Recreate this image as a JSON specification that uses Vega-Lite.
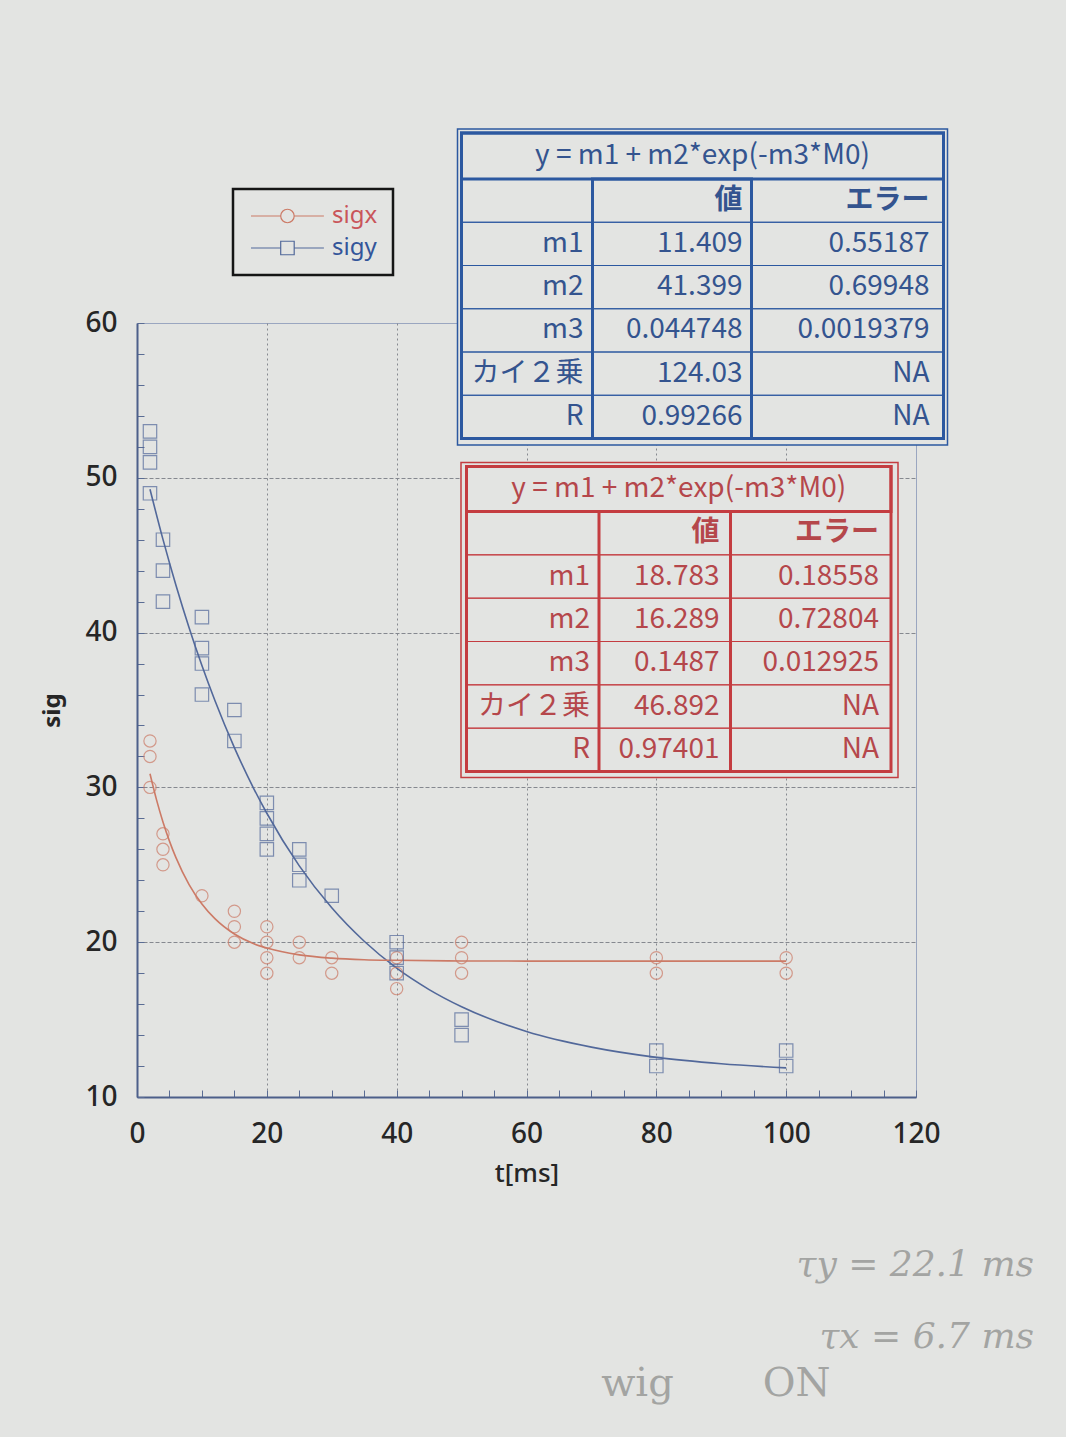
{
  "$schema": "https://vega.github.io/schema/vega-lite/v6.json",
  "width": 779,
  "height": 774,
  "autosize": "none",
  "padding": {"left": 137, "top": 323, "right": 150, "bottom": 340},
  "background": "#e3e4e2",
  "config": {"view": {"stroke": "#9aa6c0", "strokeWidth": 1}, "font": "Noto Sans"},
  "title": {
    "text": ["τy = 22.1 ms", "τx = 6.7 ms"],
    "subtitle": "wig\u00a0\u00a0\u00a0\u00a0\u00a0\u00a0\u00a0ON\u00a0\u00a0\u00a0\u00a0\u00a0\u00a0\u00a0\u00a0\u00a0\u00a0\u00a0\u00a0\u00a0\u00a0\u00a0\u00a0\u200b",
    "orient": "bottom", "anchor": "end", "frame": "group",
    "font": "DejaVu Serif", "fontStyle": "italic", "fontWeight": "normal",
    "fontSize": 36, "color": "#a3a4a2", "lineHeight": 72, "offset": 62, "dx": 118,
    "subtitleFont": "DejaVu Serif", "subtitleFontSize": 40, "subtitleColor": "#a3a4a2", "subtitlePadding": 8
  },
  "datasets": {
    "pts": [
      {"s": "sigy", "t": 2, "sig": 53}, {"s": "sigy", "t": 2, "sig": 52}, {"s": "sigy", "t": 2, "sig": 51}, {"s": "sigy", "t": 2, "sig": 49},
      {"s": "sigy", "t": 4, "sig": 46}, {"s": "sigy", "t": 4, "sig": 44}, {"s": "sigy", "t": 4, "sig": 42},
      {"s": "sigy", "t": 10, "sig": 41}, {"s": "sigy", "t": 10, "sig": 39}, {"s": "sigy", "t": 10, "sig": 38}, {"s": "sigy", "t": 10, "sig": 36},
      {"s": "sigy", "t": 15, "sig": 35}, {"s": "sigy", "t": 15, "sig": 33},
      {"s": "sigy", "t": 20, "sig": 29}, {"s": "sigy", "t": 20, "sig": 28}, {"s": "sigy", "t": 20, "sig": 27}, {"s": "sigy", "t": 20, "sig": 26},
      {"s": "sigy", "t": 25, "sig": 26}, {"s": "sigy", "t": 25, "sig": 25}, {"s": "sigy", "t": 25, "sig": 24},
      {"s": "sigy", "t": 30, "sig": 23},
      {"s": "sigy", "t": 40, "sig": 20}, {"s": "sigy", "t": 40, "sig": 19}, {"s": "sigy", "t": 40, "sig": 18},
      {"s": "sigy", "t": 50, "sig": 15}, {"s": "sigy", "t": 50, "sig": 14},
      {"s": "sigy", "t": 80, "sig": 13}, {"s": "sigy", "t": 80, "sig": 12},
      {"s": "sigy", "t": 100, "sig": 13}, {"s": "sigy", "t": 100, "sig": 12},
      {"s": "sigx", "t": 2, "sig": 33}, {"s": "sigx", "t": 2, "sig": 32}, {"s": "sigx", "t": 2, "sig": 30},
      {"s": "sigx", "t": 4, "sig": 27}, {"s": "sigx", "t": 4, "sig": 26}, {"s": "sigx", "t": 4, "sig": 25},
      {"s": "sigx", "t": 10, "sig": 23},
      {"s": "sigx", "t": 15, "sig": 22}, {"s": "sigx", "t": 15, "sig": 21}, {"s": "sigx", "t": 15, "sig": 20},
      {"s": "sigx", "t": 20, "sig": 21}, {"s": "sigx", "t": 20, "sig": 20}, {"s": "sigx", "t": 20, "sig": 19}, {"s": "sigx", "t": 20, "sig": 18},
      {"s": "sigx", "t": 25, "sig": 20}, {"s": "sigx", "t": 25, "sig": 19},
      {"s": "sigx", "t": 30, "sig": 19}, {"s": "sigx", "t": 30, "sig": 18},
      {"s": "sigx", "t": 40, "sig": 19}, {"s": "sigx", "t": 40, "sig": 18}, {"s": "sigx", "t": 40, "sig": 17},
      {"s": "sigx", "t": 50, "sig": 20}, {"s": "sigx", "t": 50, "sig": 19}, {"s": "sigx", "t": 50, "sig": 18},
      {"s": "sigx", "t": 80, "sig": 19}, {"s": "sigx", "t": 80, "sig": 18},
      {"s": "sigx", "t": 100, "sig": 19}, {"s": "sigx", "t": 100, "sig": 18}
    ],
    "fit": [
      {"s": "sigy", "t": 2, "sig": 49.26}, {"s": "sigy", "t": 4, "sig": 46.02}, {"s": "sigy", "t": 6, "sig": 43.06},
      {"s": "sigy", "t": 8, "sig": 40.35}, {"s": "sigy", "t": 10, "sig": 37.87}, {"s": "sigy", "t": 12, "sig": 35.61},
      {"s": "sigy", "t": 15, "sig": 32.57}, {"s": "sigy", "t": 18, "sig": 29.91}, {"s": "sigy", "t": 20, "sig": 28.33},
      {"s": "sigy", "t": 25, "sig": 24.93}, {"s": "sigy", "t": 30, "sig": 22.22}, {"s": "sigy", "t": 35, "sig": 20.06},
      {"s": "sigy", "t": 40, "sig": 18.32}, {"s": "sigy", "t": 45, "sig": 16.94}, {"s": "sigy", "t": 50, "sig": 15.83},
      {"s": "sigy", "t": 60, "sig": 14.23}, {"s": "sigy", "t": 70, "sig": 13.22}, {"s": "sigy", "t": 80, "sig": 12.56},
      {"s": "sigy", "t": 90, "sig": 12.15}, {"s": "sigy", "t": 100, "sig": 11.88},
      {"s": "sigx", "t": 2, "sig": 30.88}, {"s": "sigx", "t": 3, "sig": 29.21}, {"s": "sigx", "t": 4, "sig": 27.77},
      {"s": "sigx", "t": 5, "sig": 26.53}, {"s": "sigx", "t": 6, "sig": 25.46}, {"s": "sigx", "t": 8, "sig": 23.74},
      {"s": "sigx", "t": 10, "sig": 22.47}, {"s": "sigx", "t": 12, "sig": 21.52}, {"s": "sigx", "t": 15, "sig": 20.53},
      {"s": "sigx", "t": 18, "sig": 19.9}, {"s": "sigx", "t": 20, "sig": 19.62}, {"s": "sigx", "t": 25, "sig": 19.18},
      {"s": "sigx", "t": 30, "sig": 18.97}, {"s": "sigx", "t": 35, "sig": 18.87}, {"s": "sigx", "t": 40, "sig": 18.83},
      {"s": "sigx", "t": 50, "sig": 18.79}, {"s": "sigx", "t": 60, "sig": 18.78}, {"s": "sigx", "t": 80, "sig": 18.78},
      {"s": "sigx", "t": 100, "sig": 18.78}
    ],
    "tab": [
      {"tbl": "b", "c": "title", "r": "title", "txt": "y = m1 + m2*exp(-m3*M0)"},
      {"tbl": "b", "c": "lab", "r": "hdr", "txt": ""}, {"tbl": "b", "c": "val", "r": "hdr", "txt": "値"}, {"tbl": "b", "c": "err", "r": "hdr", "txt": "エラー"},
      {"tbl": "b", "c": "lab", "r": "m1", "txt": "m1"}, {"tbl": "b", "c": "val", "r": "m1", "txt": "11.409"}, {"tbl": "b", "c": "err", "r": "m1", "txt": "0.55187"},
      {"tbl": "b", "c": "lab", "r": "m2", "txt": "m2"}, {"tbl": "b", "c": "val", "r": "m2", "txt": "41.399"}, {"tbl": "b", "c": "err", "r": "m2", "txt": "0.69948"},
      {"tbl": "b", "c": "lab", "r": "m3", "txt": "m3"}, {"tbl": "b", "c": "val", "r": "m3", "txt": "0.044748"}, {"tbl": "b", "c": "err", "r": "m3", "txt": "0.0019379"},
      {"tbl": "b", "c": "lab", "r": "chi", "txt": "カイ２乗"}, {"tbl": "b", "c": "val", "r": "chi", "txt": "124.03"}, {"tbl": "b", "c": "err", "r": "chi", "txt": "NA"},
      {"tbl": "b", "c": "lab", "r": "R", "txt": "R"}, {"tbl": "b", "c": "val", "r": "R", "txt": "0.99266"}, {"tbl": "b", "c": "err", "r": "R", "txt": "NA"},
      {"tbl": "r", "c": "title", "r": "title", "txt": "y = m1 + m2*exp(-m3*M0)"},
      {"tbl": "r", "c": "lab", "r": "hdr", "txt": ""}, {"tbl": "r", "c": "val", "r": "hdr", "txt": "値"}, {"tbl": "r", "c": "err", "r": "hdr", "txt": "エラー"},
      {"tbl": "r", "c": "lab", "r": "m1", "txt": "m1"}, {"tbl": "r", "c": "val", "r": "m1", "txt": "18.783"}, {"tbl": "r", "c": "err", "r": "m1", "txt": "0.18558"},
      {"tbl": "r", "c": "lab", "r": "m2", "txt": "m2"}, {"tbl": "r", "c": "val", "r": "m2", "txt": "16.289"}, {"tbl": "r", "c": "err", "r": "m2", "txt": "0.72804"},
      {"tbl": "r", "c": "lab", "r": "m3", "txt": "m3"}, {"tbl": "r", "c": "val", "r": "m3", "txt": "0.1487"}, {"tbl": "r", "c": "err", "r": "m3", "txt": "0.012925"},
      {"tbl": "r", "c": "lab", "r": "chi", "txt": "カイ２乗"}, {"tbl": "r", "c": "val", "r": "chi", "txt": "46.892"}, {"tbl": "r", "c": "err", "r": "chi", "txt": "NA"},
      {"tbl": "r", "c": "lab", "r": "R", "txt": "R"}, {"tbl": "r", "c": "val", "r": "R", "txt": "0.97401"}, {"tbl": "r", "c": "err", "r": "R", "txt": "NA"}
    ]
  },
  "resolve": {"scale": {"x": "independent", "y": "independent"}},
  "layer": [
    {
      "encoding": {
        "x": {"field": "t", "type": "quantitative", "scale": {"domain": [0, 120], "nice": false, "zero": false},
          "axis": {"title": "t[ms]", "values": [0,5,10,15,20,25,30,35,40,45,50,55,60,65,70,75,80,85,90,95,100,105,110,115,120],
            "labelExpr": "datum.value % 20 === 0 ? datum.label : ''", "labelOverlap": false, "labelFlush": false, "labelBound": false,
            "labelFontSize": 28, "labelFont": "Noto Sans", "labelFontWeight": 500, "labelColor": "#262626", "labelPadding": 30,
            "tickSize": -7, "tickColor": "#5a6c94", "tickWidth": 1, "domainColor": "#4d5f8a", "domainWidth": 2,
            "grid": true, "gridColor": {"condition": {"test": "datum.value % 20 === 0 && datum.value > 0 && datum.value < 120", "value": "#85888f"}, "value": "transparent"},
            "gridDash": [2, 3], "gridWidth": 1,
            "titleFontSize": 26, "titleFont": "Noto Sans", "titleFontWeight": 500, "titleColor": "#262626", "titlePadding": 12}},
        "y": {"field": "sig", "type": "quantitative", "scale": {"domain": [10, 60], "nice": false, "zero": false},
          "axis": {"title": "sig", "values": [10,12,14,16,18,20,22,24,26,28,30,32,34,36,38,40,42,44,46,48,50,52,54,56,58,60],
            "labelExpr": "datum.value % 10 === 0 ? datum.label : ''", "labelOverlap": false, "labelFlush": false, "labelBound": false,
            "labelFontSize": 28, "labelFont": "Noto Sans", "labelFontWeight": 500, "labelColor": "#262626", "labelPadding": 27,
            "tickSize": -7, "tickColor": "#5a6c94", "tickWidth": 1, "domainColor": "#4d5f8a", "domainWidth": 2,
            "grid": true, "gridColor": {"condition": {"test": "datum.value % 10 === 0 && datum.value > 10 && datum.value < 60", "value": "#85888f"}, "value": "transparent"},
            "gridDash": [4, 2], "gridWidth": 1,
            "titleFontSize": 24, "titleFont": "Noto Sans", "titleFontWeight": "bold", "titleColor": "#262626", "titlePadding": 20}},
        "color": {"field": "s", "type": "nominal", "scale": {"domain": ["sigx", "sigy"], "range": ["#cc7a66", "#52689a"]},
          "legend": {"orient": "none", "legendX": 96, "legendY": -134, "title": null, "fillColor": "#e3e4e2", "strokeColor": "#151515",
            "padding": 15, "labelFontSize": 24, "labelFont": "Noto Sans", "labelOffset": 60, "symbolSize": 324, "symbolStrokeWidth": 1.2,
            "rowPadding": 8, "symbolOpacity": 1, "symbolFillColor": "transparent",
            "encode": {
              "labels": {"update": {"fill": {"signal": "datum.value === 'sigx' ? '#c9555a' : '#33559a'"}}},
              "legend": {"update": {"strokeWidth": {"value": 2.5}}}
            }}}
      },
      "layer": [
        {
          "data": {"name": "fit"},
          "mark": {"type": "line", "interpolate": "monotone", "strokeWidth": 1.6}
        },
        {
          "data": {"name": "pts"},
          "transform": [{"filter": "datum.s === 'sigx'"}],
          "mark": {"type": "point", "shape": "circle", "filled": false, "size": 150, "strokeWidth": 1.2}
        },
        {
          "data": {"name": "pts"},
          "transform": [{"filter": "datum.s === 'sigy'"}],
          "mark": {"type": "point", "shape": "square", "filled": false, "size": 180, "strokeWidth": 1.2}
        },
        {
          "data": {"name": "pts"},
          "transform": [{"filter": "false"}],
          "mark": {"type": "point", "filled": false, "strokeWidth": 1.2},
          "encoding": {
            "shape": {"field": "s", "type": "nominal", "scale": {"domain": ["sigx", "sigy"],
              "range": ["M-1,0H2.3M3.8,0H7.1M3.8,0A0.75,0.75,0,1,1,2.3,0A0.75,0.75,0,1,1,3.8,0", "M-1,0H2.3M3.8,0H7.1M2.3,-0.75H3.8V0.75H2.3Z"]}}
          }
        }
      ]
    },

    {"data": {"name": "tab"}, "transform": [{"filter": "datum.tbl === 'b' && datum.r === 'title'"}],
     "mark": {"type": "rect", "fill": "#e3e4e2", "stroke": "#2c58a0", "strokeWidth": 1.5},
     "encoding": {"x": {"field": "c", "type": "nominal", "scale": {"domain": ["title"], "range": [320.5, 810.5], "padding": 0}, "axis": null},
                  "y": {"field": "r", "type": "nominal", "scale": {"domain": ["title"], "range": [-194, 122], "padding": 0}, "axis": null}}},
    {"data": {"name": "tab"}, "transform": [{"filter": "datum.tbl === 'b' && datum.r === 'title'"}],
     "mark": {"type": "rect", "fill": "transparent", "stroke": "#2c58a0", "strokeWidth": 3},
     "encoding": {"x": {"field": "c", "type": "nominal", "scale": {"domain": ["title"], "range": [324.5, 806.5], "padding": 0}, "axis": null},
                  "y": {"field": "r", "type": "nominal", "scale": {"domain": ["title"], "range": [-190, 115.5], "padding": 0}, "axis": null}}},
    {"data": {"name": "tab"}, "transform": [{"filter": "datum.tbl === 'b' && datum.r === 'title'"}],
     "encoding": {"x": {"field": "c", "type": "nominal", "scale": {"domain": ["title"], "range": [324.5, 806.5], "padding": 0}, "axis": null},
                  "y": {"field": "r", "type": "nominal", "scale": {"domain": ["title"], "range": [-190, -144], "padding": 0}, "axis": null}},
     "layer": [
       {"mark": {"type": "rect", "fill": "transparent", "stroke": "#2c58a0", "strokeWidth": 3}},
       {"mark": {"type": "text", "align": "center", "baseline": "middle", "font": "Noto Sans CJK JP", "fontSize": 28, "color": "#34548f"}, "encoding": {"text": {"field": "txt"}}}
     ]},
    {"data": {"name": "tab"}, "transform": [{"filter": "datum.tbl === 'b' && datum.c === 'lab'"}],
     "encoding": {"x": {"field": "c", "type": "nominal", "scale": {"domain": ["lab"], "range": [324.5, 455.5], "padding": 0}, "axis": null},
                  "y": {"field": "r", "type": "nominal", "scale": {"domain": ["hdr","m1","m2","m3","chi","R"], "range": [-144, 115.5], "padding": 0}, "axis": null}},
     "layer": [
       {"mark": {"type": "rect", "fill": "transparent", "stroke": "#2c58a0", "strokeWidth": 1}},
       {"mark": {"type": "text", "align": "right", "baseline": "middle", "dx": -9, "font": "Noto Sans CJK JP", "fontSize": 28, "color": "#34548f"},
        "encoding": {"x": {"field": "c", "type": "nominal", "bandPosition": 1}, "text": {"field": "txt"}}}
     ]},
    {"data": {"name": "tab"}, "transform": [{"filter": "datum.tbl === 'b' && datum.c === 'val'"}],
     "encoding": {"x": {"field": "c", "type": "nominal", "scale": {"domain": ["val"], "range": [455.5, 614.5], "padding": 0}, "axis": null},
                  "y": {"field": "r", "type": "nominal", "scale": {"domain": ["hdr","m1","m2","m3","chi","R"], "range": [-144, 115.5], "padding": 0}, "axis": null}},
     "layer": [
       {"mark": {"type": "rect", "fill": "transparent", "stroke": "#2c58a0", "strokeWidth": 1}},
       {"mark": {"type": "text", "align": "right", "baseline": "middle", "dx": -9, "font": "Noto Sans CJK JP", "fontSize": 28, "color": "#34548f", "fontWeight": {"expr": "datum.r === 'hdr' ? 'bold' : 'normal'"}},
        "encoding": {"x": {"field": "c", "type": "nominal", "bandPosition": 1}, "text": {"field": "txt"}}}
     ]},
    {"data": {"name": "tab"}, "transform": [{"filter": "datum.tbl === 'b' && datum.c === 'err'"}],
     "encoding": {"x": {"field": "c", "type": "nominal", "scale": {"domain": ["err"], "range": [614.5, 806.5], "padding": 0}, "axis": null},
                  "y": {"field": "r", "type": "nominal", "scale": {"domain": ["hdr","m1","m2","m3","chi","R"], "range": [-144, 115.5], "padding": 0}, "axis": null}},
     "layer": [
       {"mark": {"type": "rect", "fill": "transparent", "stroke": "#2c58a0", "strokeWidth": 1}},
       {"mark": {"type": "text", "align": "right", "baseline": "middle", "dx": -14, "font": "Noto Sans CJK JP", "fontSize": 28, "color": "#34548f", "fontWeight": {"expr": "datum.r === 'hdr' ? 'bold' : 'normal'"}},
        "encoding": {"x": {"field": "c", "type": "nominal", "bandPosition": 1}, "text": {"field": "txt"}}}
     ]},
    {"data": {"name": "tab"}, "transform": [{"filter": "datum.tbl === 'b' && datum.c === 'val' && datum.r === 'hdr'"}],
     "mark": {"type": "rect", "fill": "transparent", "stroke": "#2c58a0", "strokeWidth": 3},
     "encoding": {"x": {"field": "c", "type": "nominal", "scale": {"domain": ["val"], "range": [455.5, 614.5], "padding": 0}, "axis": null},
                  "y": {"field": "r", "type": "nominal", "scale": {"domain": ["hdr"], "range": [-144, 115.5], "padding": 0}, "axis": null}}},

    {"data": {"name": "tab"}, "transform": [{"filter": "datum.tbl === 'r' && datum.r === 'title'"}],
     "mark": {"type": "rect", "fill": "#e3e4e2", "stroke": "#c43c40", "strokeWidth": 1.5},
     "encoding": {"x": {"field": "c", "type": "nominal", "scale": {"domain": ["title"], "range": [324, 761], "padding": 0}, "axis": null},
                  "y": {"field": "r", "type": "nominal", "scale": {"domain": ["title"], "range": [139.5, 454.5], "padding": 0}, "axis": null}}},
    {"data": {"name": "tab"}, "transform": [{"filter": "datum.tbl === 'r' && datum.r === 'title'"}],
     "mark": {"type": "rect", "fill": "transparent", "stroke": "#c43c40", "strokeWidth": 3},
     "encoding": {"x": {"field": "c", "type": "nominal", "scale": {"domain": ["title"], "range": [329.5, 754], "padding": 0}, "axis": null},
                  "y": {"field": "r", "type": "nominal", "scale": {"domain": ["title"], "range": [143.5, 448.5], "padding": 0}, "axis": null}}},
    {"data": {"name": "tab"}, "transform": [{"filter": "datum.tbl === 'r' && datum.r === 'title'"}],
     "encoding": {"x": {"field": "c", "type": "nominal", "scale": {"domain": ["title"], "range": [329.5, 754], "padding": 0}, "axis": null},
                  "y": {"field": "r", "type": "nominal", "scale": {"domain": ["title"], "range": [143.5, 188.5], "padding": 0}, "axis": null}},
     "layer": [
       {"mark": {"type": "rect", "fill": "transparent", "stroke": "#c43c40", "strokeWidth": 3}},
       {"mark": {"type": "text", "align": "center", "baseline": "middle", "font": "Noto Sans CJK JP", "fontSize": 28, "color": "#b5474b"}, "encoding": {"text": {"field": "txt"}}}
     ]},
    {"data": {"name": "tab"}, "transform": [{"filter": "datum.tbl === 'r' && datum.c === 'lab'"}],
     "encoding": {"x": {"field": "c", "type": "nominal", "scale": {"domain": ["lab"], "range": [329.5, 462], "padding": 0}, "axis": null},
                  "y": {"field": "r", "type": "nominal", "scale": {"domain": ["hdr","m1","m2","m3","chi","R"], "range": [188.5, 448.5], "padding": 0}, "axis": null}},
     "layer": [
       {"mark": {"type": "rect", "fill": "transparent", "stroke": "#c43c40", "strokeWidth": 1}},
       {"mark": {"type": "text", "align": "right", "baseline": "middle", "dx": -9, "font": "Noto Sans CJK JP", "fontSize": 28, "color": "#b5474b"},
        "encoding": {"x": {"field": "c", "type": "nominal", "bandPosition": 1}, "text": {"field": "txt"}}}
     ]},
    {"data": {"name": "tab"}, "transform": [{"filter": "datum.tbl === 'r' && datum.c === 'val'"}],
     "encoding": {"x": {"field": "c", "type": "nominal", "scale": {"domain": ["val"], "range": [462, 593.5], "padding": 0}, "axis": null},
                  "y": {"field": "r", "type": "nominal", "scale": {"domain": ["hdr","m1","m2","m3","chi","R"], "range": [188.5, 448.5], "padding": 0}, "axis": null}},
     "layer": [
       {"mark": {"type": "rect", "fill": "transparent", "stroke": "#c43c40", "strokeWidth": 1}},
       {"mark": {"type": "text", "align": "right", "baseline": "middle", "dx": -11, "font": "Noto Sans CJK JP", "fontSize": 28, "color": "#b5474b", "fontWeight": {"expr": "datum.r === 'hdr' ? 'bold' : 'normal'"}},
        "encoding": {"x": {"field": "c", "type": "nominal", "bandPosition": 1}, "text": {"field": "txt"}}}
     ]},
    {"data": {"name": "tab"}, "transform": [{"filter": "datum.tbl === 'r' && datum.c === 'err'"}],
     "encoding": {"x": {"field": "c", "type": "nominal", "scale": {"domain": ["err"], "range": [593.5, 754], "padding": 0}, "axis": null},
                  "y": {"field": "r", "type": "nominal", "scale": {"domain": ["hdr","m1","m2","m3","chi","R"], "range": [188.5, 448.5], "padding": 0}, "axis": null}},
     "layer": [
       {"mark": {"type": "rect", "fill": "transparent", "stroke": "#c43c40", "strokeWidth": 1}},
       {"mark": {"type": "text", "align": "right", "baseline": "middle", "dx": -12, "font": "Noto Sans CJK JP", "fontSize": 28, "color": "#b5474b", "fontWeight": {"expr": "datum.r === 'hdr' ? 'bold' : 'normal'"}},
        "encoding": {"x": {"field": "c", "type": "nominal", "bandPosition": 1}, "text": {"field": "txt"}}}
     ]},
    {"data": {"name": "tab"}, "transform": [{"filter": "datum.tbl === 'r' && datum.c === 'val' && datum.r === 'hdr'"}],
     "mark": {"type": "rect", "fill": "transparent", "stroke": "#c43c40", "strokeWidth": 3},
     "encoding": {"x": {"field": "c", "type": "nominal", "scale": {"domain": ["val"], "range": [462, 593.5], "padding": 0}, "axis": null},
                  "y": {"field": "r", "type": "nominal", "scale": {"domain": ["hdr"], "range": [188.5, 448.5], "padding": 0}, "axis": null}}}
  ]
}
